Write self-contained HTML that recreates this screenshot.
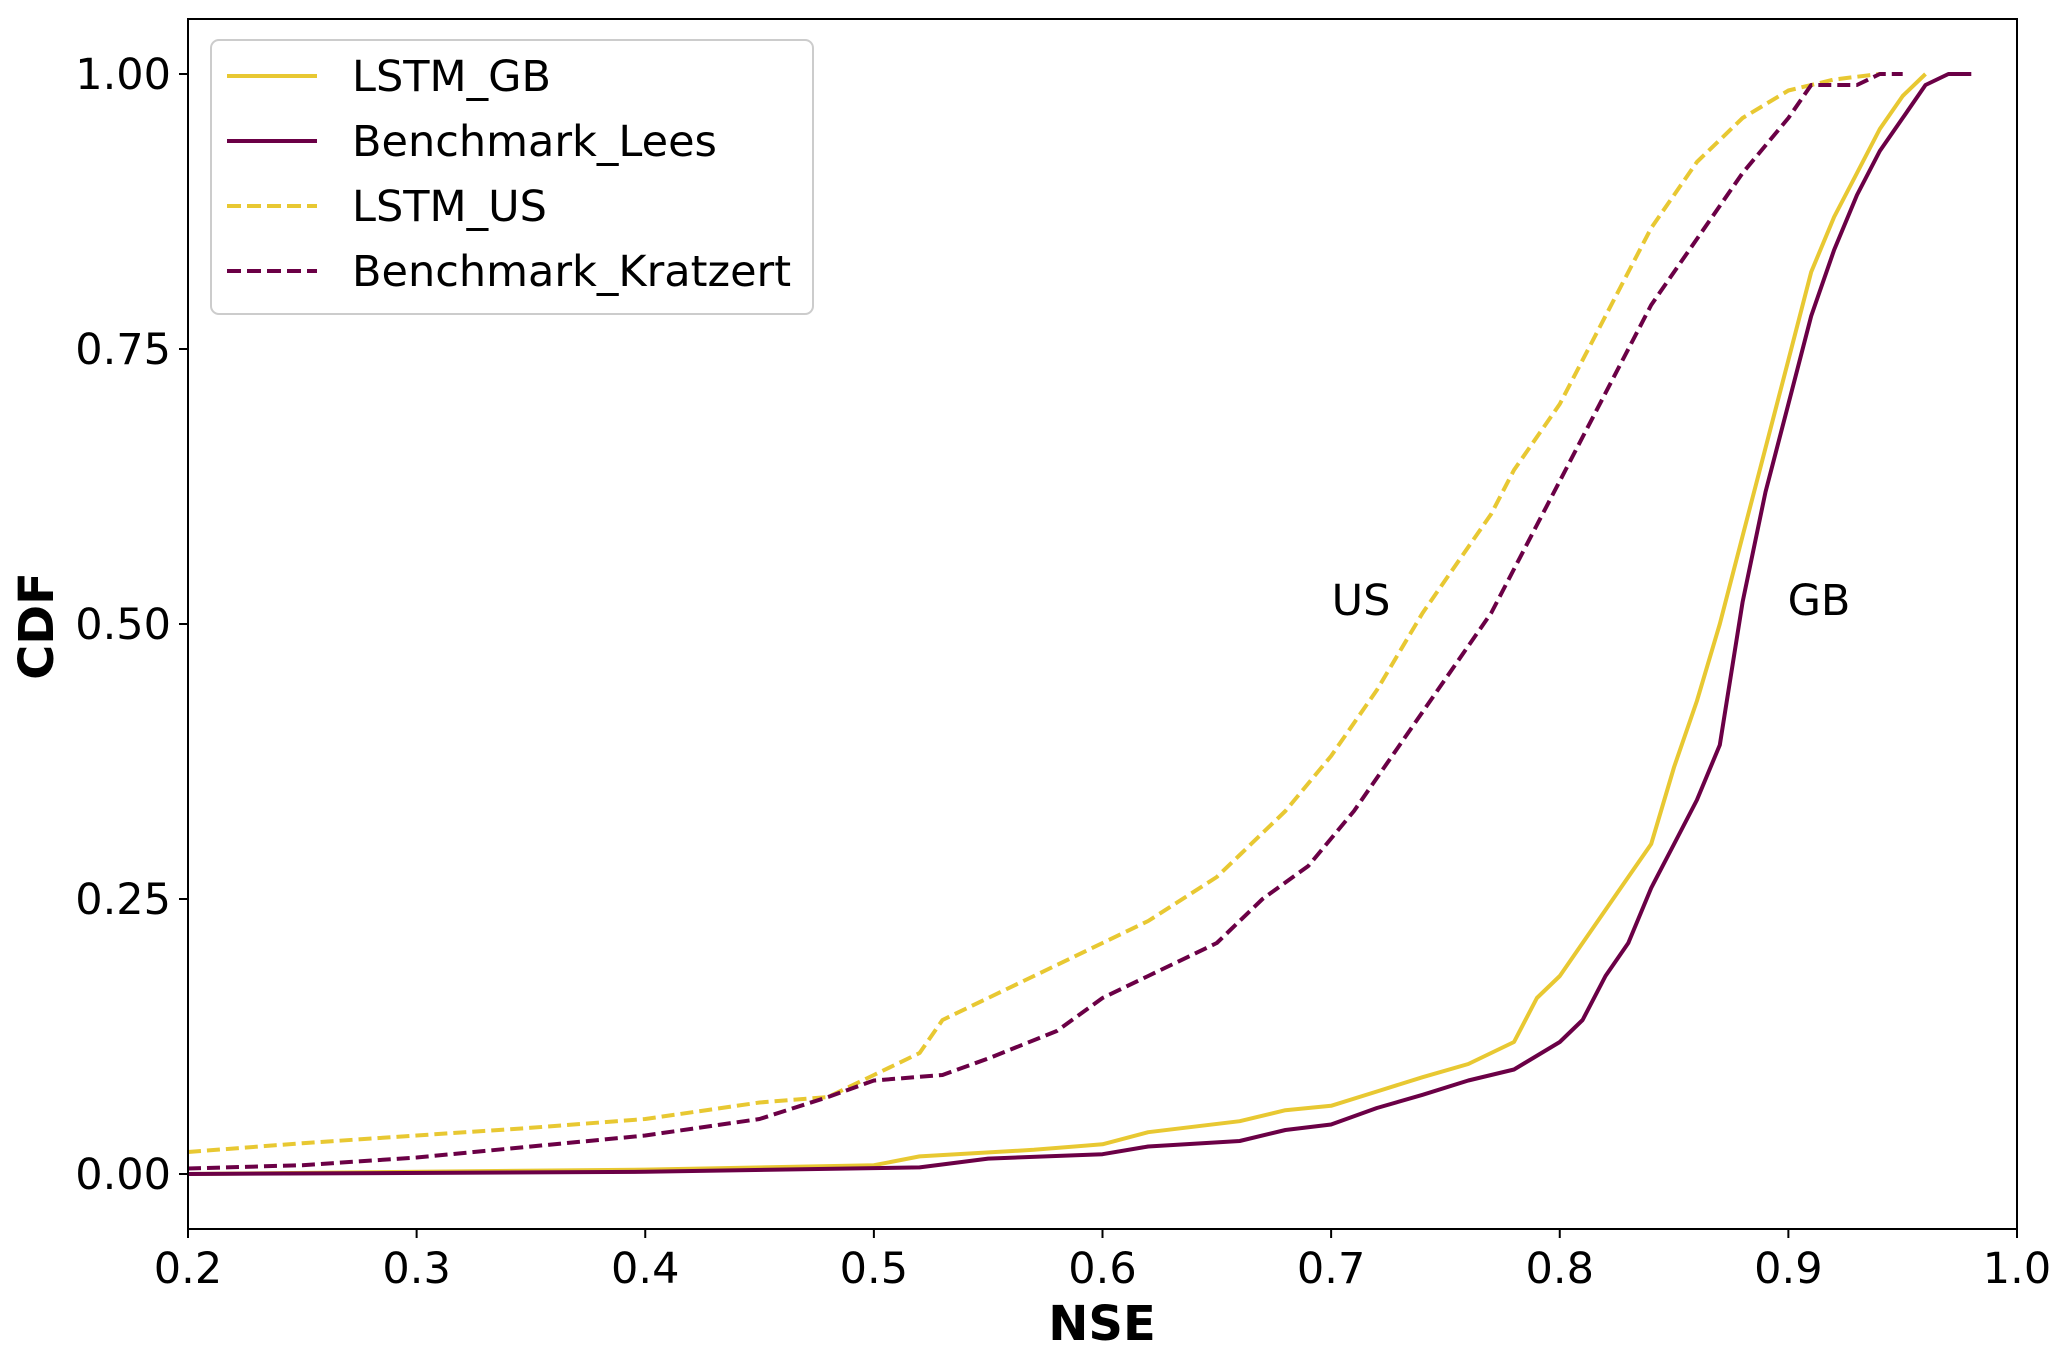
<!DOCTYPE html>
<html><head><meta charset="utf-8"><style>
html,body{margin:0;padding:0;background:#fff;}
svg{display:block;font-family:"DejaVu Sans","Liberation Sans",sans-serif;}
</style></head><body>
<svg id="chart" width="2067" height="1358" viewBox="0 0 2067 1358">
<rect x="0" y="0" width="2067" height="1358" fill="#fff"/>
<g id="series"></g>
<g id="axes"></g>
<text x="1361" y="615" font-size="43" text-anchor="middle">US</text>
<text x="1819" y="615" font-size="43" text-anchor="middle">GB</text>
<text x="1102" y="1340" font-size="48" font-weight="bold" text-anchor="middle">NSE</text>
<text transform="translate(53,626) rotate(-90)" font-size="48" font-weight="bold" text-anchor="middle">CDF</text>
<g>
<rect x="211" y="40" width="602" height="274" rx="8" fill="#fff" fill-opacity="0.8" stroke="#ccc" stroke-width="2"/>
<line x1="227" y1="76" x2="317" y2="76" stroke="#e8c832" stroke-width="4"/>
<text x="352" y="91" font-size="43">LSTM_GB</text>
<line x1="227" y1="141" x2="317" y2="141" stroke="#6b0046" stroke-width="4"/>
<text x="352" y="156" font-size="43">Benchmark_Lees</text>
<line x1="227" y1="206" x2="317" y2="206" stroke="#e8c832" stroke-width="4" stroke-dasharray="14,6"/>
<text x="352" y="221" font-size="43">LSTM_US</text>
<line x1="227" y1="271" x2="317" y2="271" stroke="#6b0046" stroke-width="4" stroke-dasharray="14,6"/>
<text x="352" y="286" font-size="43">Benchmark_Kratzert</text>
</g>
</svg>
<script>
const xTicks = [0.2,0.3,0.4,0.5,0.6,0.7,0.8,0.9,1.0];
const xTickLabels = ["0.2","0.3","0.4","0.5","0.6","0.7","0.8","0.9","1.0"];
const yTicks = [0,0.25,0.5,0.75,1.0];
const yTickLabels = ["0.00","0.25","0.50","0.75","1.00"];
const usX = [0.2,0.25,0.3,0.35,0.4,0.45,0.48,0.5,0.52,0.53,0.55,0.57,0.6,0.62,0.65,0.66,0.68,0.7,0.72,0.74,0.75,0.77,0.78,0.8,0.82,0.84,0.86,0.88,0.9,0.92,0.94];
const usY = [0.02,0.028,0.035,0.042,0.05,0.065,0.07,0.09,0.11,0.14,0.16,0.18,0.21,0.23,0.27,0.29,0.33,0.38,0.44,0.51,0.54,0.60,0.64,0.70,0.78,0.86,0.92,0.96,0.985,0.995,1.0];
const krX = [0.2,0.25,0.3,0.35,0.4,0.45,0.48,0.5,0.53,0.55,0.58,0.6,0.62,0.65,0.67,0.69,0.71,0.73,0.75,0.77,0.79,0.8,0.82,0.84,0.86,0.88,0.9,0.91,0.93,0.94,0.95];
const krY = [0.005,0.008,0.015,0.025,0.035,0.05,0.07,0.085,0.09,0.105,0.13,0.16,0.18,0.21,0.25,0.28,0.33,0.39,0.45,0.51,0.59,0.63,0.71,0.79,0.85,0.91,0.96,0.99,0.99,1.0,1.0];
const gbX = [0.2,0.4,0.5,0.52,0.57,0.6,0.62,0.66,0.68,0.7,0.72,0.74,0.76,0.78,0.79,0.8,0.81,0.83,0.84,0.85,0.86,0.87,0.88,0.89,0.9,0.91,0.92,0.93,0.94,0.95,0.96];
const gbY = [0,0.004,0.008,0.016,0.022,0.027,0.038,0.048,0.058,0.062,0.075,0.088,0.10,0.12,0.16,0.18,0.21,0.27,0.30,0.37,0.43,0.50,0.58,0.66,0.74,0.82,0.87,0.91,0.95,0.98,1.0];
const leesX = [0.2,0.4,0.52,0.55,0.6,0.62,0.66,0.68,0.7,0.72,0.74,0.76,0.78,0.8,0.81,0.82,0.83,0.84,0.85,0.86,0.87,0.88,0.89,0.9,0.91,0.92,0.93,0.94,0.95,0.96,0.97,0.98];
const leesY = [0,0.002,0.006,0.014,0.018,0.025,0.03,0.04,0.045,0.06,0.072,0.085,0.095,0.12,0.14,0.18,0.21,0.26,0.30,0.34,0.39,0.52,0.62,0.70,0.78,0.84,0.89,0.93,0.96,0.99,1.0,1.0];

const NS = "http://www.w3.org/2000/svg";
const L = 188, R = 2017, T = 19, B = 1229;
function sx(v){ return L + (v - 0.2) / 0.8 * (R - L); }
function sy(v){ return B - (v + 0.05) / 1.1 * (B - T); }
const series = document.getElementById('series');
const axes = document.getElementById('axes');
function drawLine(xs, ys, color, dashed, name){
  const p = document.createElementNS(NS, 'polyline');
  p.setAttribute('points', xs.map((x,i)=>sx(x).toFixed(1)+','+sy(ys[i]).toFixed(1)).join(' '));
  p.setAttribute('fill','none');
  p.setAttribute('stroke',color);
  p.setAttribute('stroke-width','4');
  p.setAttribute('stroke-linejoin','round');
  if (dashed) p.setAttribute('stroke-dasharray','13,6');
  
  
  series.appendChild(p);
}
drawLine(usX, usY, '#e8c832', true, 'line-lstm-us');
drawLine(krX, krY, '#6b0046', true, 'line-benchmark-kratzert');
drawLine(gbX, gbY, '#e8c832', false, 'line-lstm-gb');
drawLine(leesX, leesY, '#6b0046', false, 'line-benchmark-lees');

const frame = document.createElementNS(NS,'rect');
frame.setAttribute('x',L); frame.setAttribute('y',T);
frame.setAttribute('width',R-L); frame.setAttribute('height',B-T);
frame.setAttribute('fill','none'); frame.setAttribute('stroke','#000'); frame.setAttribute('stroke-width','2');


axes.appendChild(frame);

xTicks.forEach((v,i)=>{
  const t = document.createElementNS(NS,'line');
  t.setAttribute('x1',sx(v)); t.setAttribute('x2',sx(v));
  t.setAttribute('y1',B); t.setAttribute('y2',B+9);
  t.setAttribute('stroke','#000'); t.setAttribute('stroke-width','2');
  
  
  axes.appendChild(t);
  const s = document.createElementNS(NS,'text');
  s.setAttribute('x',sx(v)); s.setAttribute('y',B+54);
  s.setAttribute('font-size','43'); s.setAttribute('text-anchor','middle');
  s.textContent = xTickLabels[i];
  
  
  axes.appendChild(s);
});
yTicks.forEach((v,i)=>{
  const t = document.createElementNS(NS,'line');
  t.setAttribute('x1',L-9); t.setAttribute('x2',L);
  t.setAttribute('y1',sy(v)); t.setAttribute('y2',sy(v));
  t.setAttribute('stroke','#000'); t.setAttribute('stroke-width','2');
  
  
  axes.appendChild(t);
  const s = document.createElementNS(NS,'text');
  s.setAttribute('x',L-17); s.setAttribute('y',sy(v)+15);
  s.setAttribute('font-size','43'); s.setAttribute('text-anchor','end');
  s.textContent = yTickLabels[i];
  
  
  axes.appendChild(s);
});
</script>
</body></html>
